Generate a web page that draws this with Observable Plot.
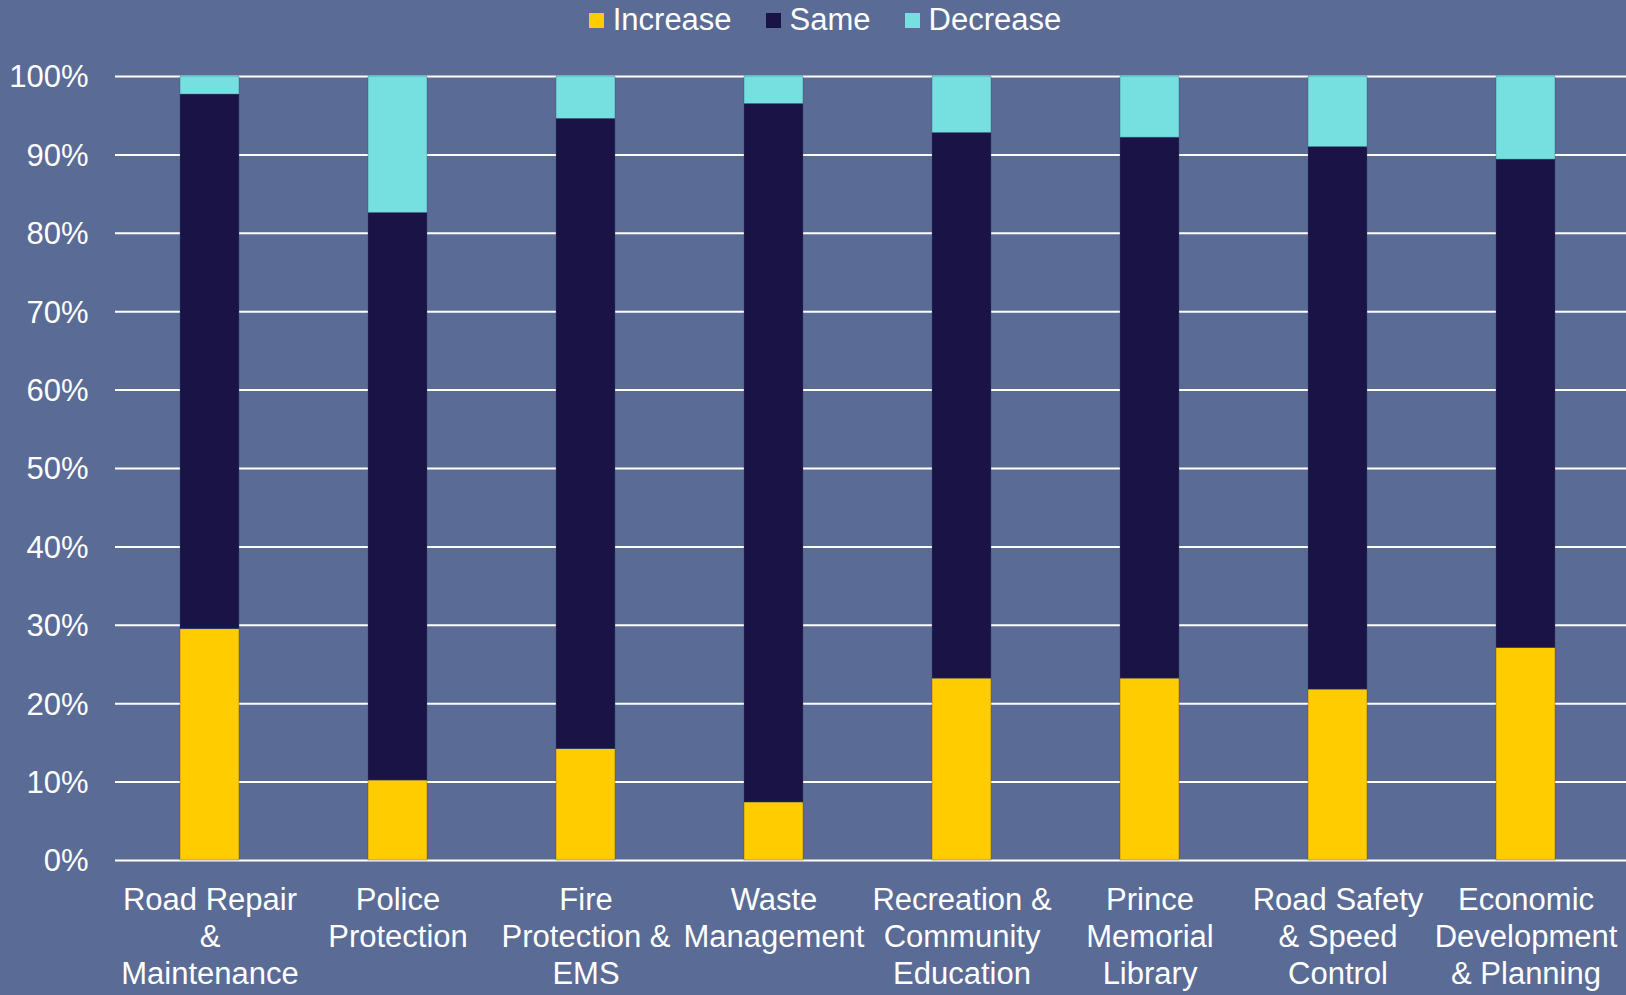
<!DOCTYPE html>
<html>
<head>
<meta charset="utf-8">
<script src="https://cdn.jsdelivr.net/npm/d3@7"></script>
<script src="https://cdn.jsdelivr.net/npm/@observablehq/plot@0.6"></script>
<style>
  html, body { margin: 0; padding: 0; background: #5A6B95; width: 1626px; height: 995px; overflow: hidden; }
  body { font-family: "Liberation Sans", Arial, sans-serif; color: #fff; }
  #legend { height: 40px; margin-bottom: 10px; display: flex; justify-content: center; align-items: center; padding-left: 24px; font-size: 31px; }
  #legend .item { display: flex; align-items: center; margin: 0 17px; }
  #legend .sw { width: 15px; height: 15px; margin-right: 9px; }
</style>
</head>
<body>
<div id="legend"></div>
<div id="chart"></div>
<script>
const categories = ["Road Repair & Maintenance", "Police Protection", "Fire Protection & EMS", "Waste Management", "Recreation & Community Education", "Prince Memorial Library", "Road Safety & Speed Control", "Economic Development & Planning"];
const tickLabels = ["Road Repair\n&\nMaintenance", "Police\nProtection", "Fire\nProtection &\nEMS", "Waste\nManagement", "Recreation &\nCommunity\nEducation", "Prince\nMemorial\nLibrary", "Road Safety\n& Speed\nControl", "Economic\nDevelopment\n& Planning"];
const series = ["Increase", "Same", "Decrease"];
const increase = [29.5, 10.2, 14.2, 7.4, 23.2, 23.2, 21.8, 27.1];
const same = [68.2, 72.4, 80.4, 89.1, 69.6, 69.0, 69.2, 62.3];
const decrease = [2.3, 17.4, 5.4, 3.5, 7.2, 7.8, 9.0, 10.6];
const yTicks = [0, 10, 20, 30, 40, 50, 60, 70, 80, 90, 100];
const colors = ["#FFCC00", "#1A1446", "#76E0E0"];

const values = {Increase: increase, Same: same, Decrease: decrease};
const rows = [];
categories.forEach((c, i) => {
  series.forEach(s => rows.push({category: c, series: s, value: values[s][i]}));
});

const legend = document.getElementById("legend");
series.forEach((s, i) => {
  const item = document.createElement("div");
  item.className = "item";
  item.innerHTML = `<span class="sw" style="background:${colors[i]}"></span><span>${s}</span>`;
  legend.appendChild(item);
});

const chart = Plot.plot({
  width: 1626,
  height: 945,
  marginTop: 26,
  marginBottom: 135,
  marginLeft: 115,
  marginRight: 0,
  style: {background: "transparent", color: "#fff", fontFamily: "'Liberation Sans', Arial, sans-serif", fontSize: "31px"},
  x: {domain: categories, paddingInner: 0.686, paddingOuter: 0.343, insetRight: 6, label: null},
  y: {domain: [0, 100], label: null},
  color: {domain: series, range: colors},
  marks: [
    Plot.ruleY(yTicks, {stroke: "#ffffff", strokeWidth: 2}),
    Plot.barY(rows, {x: "category", y: "value", fill: "series", stroke: "#3a4a70", strokeWidth: 0.6, strokeOpacity: 0.6}),
    Plot.axisY({ticks: yTicks, tickSize: 0, tickPadding: 27, tickFormat: d => d + "%", fontSize: 31, dy: 1, label: null}),
    Plot.axisX({tickSize: 0, tickPadding: 23, tickFormat: c => tickLabels[categories.indexOf(c)], lineHeight: 1.2, fontSize: 31, label: null})
  ]
});
document.getElementById("chart").appendChild(chart);
</script>
</body>
</html>
